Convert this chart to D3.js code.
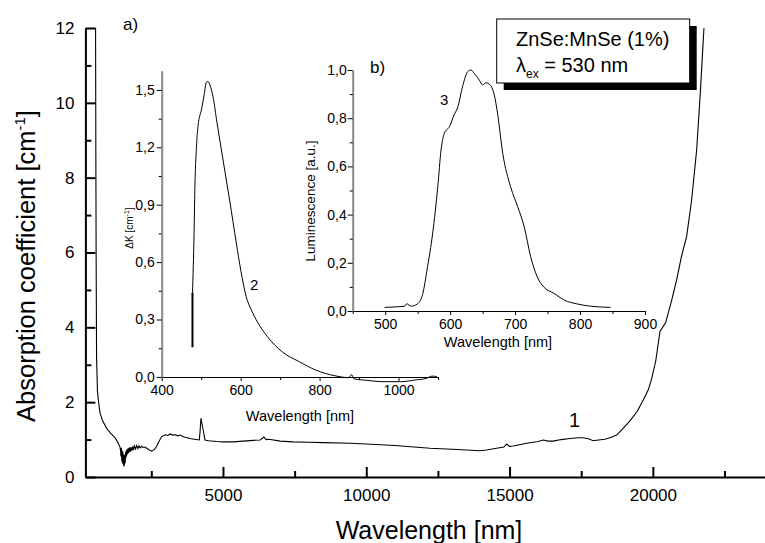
<!DOCTYPE html>
<html>
<head>
<meta charset="utf-8">
<title>ZnSe:MnSe absorption</title>
<script src="https://d3js.org/d3.v7.min.js"></script>
<style>
  body { margin: 0; background: #fff; }
  text { font-family: "Liberation Sans", Arial, sans-serif; fill: #000; }
</style>
</head>
<body>
<svg id="chart" width="765" height="543"></svg>
<script>
// main curve 1: absorption coefficient vs wavelength
var mainWavelength = [555, 565, 575, 590, 620, 660, 708, 800, 942, 1100, 1232, 1330, 1406, 1425, 1440, 1455, 1470, 1480, 1490, 1500, 1510, 1520, 1530, 1540, 1550, 1560, 1570, 1580, 1590, 1600, 1610, 1620, 1630, 1650, 1670, 1690, 1710, 1730, 1760, 1790, 1820, 1850, 1880, 1910, 1950, 1990, 2030, 2070, 2110, 2160, 2210, 2270, 2340, 2420, 2512, 2600, 2687, 2780, 2860, 2917, 3000, 3080, 3151, 3250, 3350, 3420, 3500, 3650, 3849, 4000, 4173, 4200, 4232, 4260, 4313, 4372, 4500, 4780, 5000, 5360, 5700, 6057, 6300, 6431, 6500, 6600, 7000, 7443, 8000, 8500, 9431, 10000, 11000, 12222, 13000, 13500, 13967, 14200, 14550, 14800, 14899, 15000, 15129, 15600, 16000, 16176, 16350, 16525, 16800, 17107, 17400, 17571, 17750, 17920, 18100, 18329, 18550, 18737, 18911, 19201, 19450, 19665, 19840, 19950, 20100, 20248, 20443, 20650, 20830, 21000, 21179, 21354, 21528, 21650, 21783]
var mainAbsorption = [12.0, 8.5, 5.8, 3.2, 2.3, 2.0, 1.72, 1.5, 1.3, 1.15, 1.05, 0.93, 0.8, 0.72, 0.55, 0.78, 0.42, 0.68, 0.36, 0.7, 0.4, 0.62, 0.3, 0.58, 0.28, 0.52, 0.34, 0.6, 0.38, 0.66, 0.5, 0.7, 0.55, 0.74, 0.6, 0.77, 0.64, 0.79, 0.67, 0.8, 0.7, 0.82, 0.72, 0.83, 0.75, 0.84, 0.76, 0.83, 0.78, 0.82, 0.79, 0.8, 0.77, 0.73, 0.69, 0.73, 0.82, 0.97, 1.08, 1.1, 1.13, 1.11, 1.15, 1.12, 1.13, 1.1, 1.12, 1.07, 1.03, 1.01, 0.99, 1.2, 1.57, 1.45, 1.25, 0.99, 0.97, 0.95, 0.94, 0.94, 0.96, 0.98, 0.99, 1.07, 1.0, 1.01, 0.96, 0.94, 0.93, 0.92, 0.9, 0.88, 0.84, 0.77, 0.74, 0.72, 0.70, 0.72, 0.77, 0.8, 0.88, 0.82, 0.83, 0.9, 0.95, 0.99, 0.96, 0.96, 1.0, 1.03, 1.05, 1.05, 1.02, 0.97, 0.99, 1.01, 1.06, 1.12, 1.26, 1.5, 1.75, 2.06, 2.33, 2.6, 3.1, 3.89, 4.12, 4.7, 5.27, 5.9, 6.43, 7.41, 8.74, 10.2, 12.0]

// inset a, curve 2: delta K
var dkWavelength = [478, 482, 484, 488, 492, 501, 508, 513, 517, 522, 530, 540, 551, 562, 572, 589, 601, 614, 627, 639, 668, 706, 748, 790, 841, 874, 881, 887, 920, 958, 1008, 1042, 1070, 1085, 1097]
var dkValue = [0.44, 0.75, 0.98, 1.2, 1.31, 1.40, 1.48, 1.54, 1.545, 1.526, 1.465, 1.33, 1.19, 1.05, 0.925, 0.70, 0.55, 0.42, 0.35, 0.30, 0.21, 0.13, 0.08, 0.036, 0.005, -0.004, 0.012, -0.01, -0.018, -0.025, -0.025, -0.016, -0.008, 0.004, 0.002]
var dkBar = [[478, 0.44], [478, 0.155]]

// inset b, curve 3: luminescence
var lumWavelength = [499, 515, 530, 533, 540, 550, 558, 565, 573, 581, 586, 591, 599, 606, 612, 619, 627, 632, 637, 645, 650, 655, 660, 668, 673, 681, 693, 704, 714, 724, 734, 744, 760, 775, 796, 816, 847]
var lumValue = [0.015, 0.017, 0.02, 0.03, 0.02, 0.03, 0.073, 0.18, 0.32, 0.516, 0.668, 0.737, 0.765, 0.813, 0.848, 0.93, 0.993, 1.0, 0.986, 0.958, 0.938, 0.947, 0.942, 0.896, 0.82, 0.654, 0.516, 0.433, 0.35, 0.225, 0.142, 0.10, 0.073, 0.046, 0.029, 0.02, 0.015]

var mainXTicks = [5000, 10000, 15000, 20000]
var mainXMinor = [2500, 7500, 12500, 17500, 22500]
var mainYTicks = [0, 2, 4, 6, 8, 10, 12]
var mainYMinor = [1, 3, 5, 7, 9, 11]
var aXTicks = [400, 600, 800, 1000]
var aXMinor = [500, 700, 900, 1100]
var aYTicks = [0, 0.3, 0.6, 0.9, 1.2, 1.5]
var aYMinor = [0.15, 0.45, 0.75, 1.05, 1.35]
var bXTicks = [500, 600, 700, 800, 900]
var bXMinor = [450, 550, 650, 750, 850]
var bYTicks = [0, 0.2, 0.4, 0.6, 0.8, 1.0]
var bYMinor = [0.1, 0.3, 0.5, 0.7, 0.9]

var svg = d3.select('#chart')
var comma = d => d3.format('.1f')(d).replace('.', ',')

function axisStyle(g, width, color) {
  g.select('.domain').attr('stroke', color).attr('stroke-width', width)
  g.selectAll('.tick line').attr('stroke', '#000').attr('stroke-width', width)
}

// ---------- main plot ----------
var x = d3.scaleLinear().domain([200, 24000]).range([85.4, 767.5])
var y = d3.scaleLinear().domain([0, 12]).range([477, 28])

var gx = svg.append('g').attr('transform', 'translate(0,477)')
  .call(d3.axisBottom(x).tickValues(mainXTicks).tickSizeInner(-10).tickSizeOuter(0).tickPadding(12).tickFormat(d3.format('d')))
gx.append('g').call(d3.axisBottom(x).tickValues(mainXMinor).tickSize(-6).tickFormat('')).select('.domain').remove()
axisStyle(gx, 2, '#000')
gx.selectAll('text').attr('font-size', 17)

var gy = svg.append('g').attr('transform', 'translate(85.4,0)')
  .call(d3.axisLeft(y).tickValues(mainYTicks).tickSizeInner(-10).tickSizeOuter(0).tickPadding(11))
gy.append('g').call(d3.axisLeft(y).tickValues(mainYMinor).tickSize(-6).tickFormat('')).select('.domain').remove()
axisStyle(gy, 2, '#000')
gy.selectAll('text').attr('font-size', 17)

svg.append('path')
  .datum(d3.zip(mainWavelength, mainAbsorption))
  .attr('d', d3.line().x(d => x(d[0])).y(d => y(d[1])))
  .attr('fill', 'none').attr('stroke', '#000').attr('stroke-width', 1.1)

svg.append('text').attr('x', 429).attr('y', 539).attr('text-anchor', 'middle')
  .attr('font-size', 25).text('Wavelength [nm]')
var yt = svg.append('text').attr('transform', 'translate(35,266) rotate(-90)')
  .attr('text-anchor', 'middle').attr('font-size', 25.5)
yt.append('tspan').text('Absorption coefficient [cm')
yt.append('tspan').attr('font-size', 15).attr('dy', -10).text('-1')
yt.append('tspan').attr('dy', 10).text(']')

svg.append('text').attr('x', 569).attr('y', 427).attr('font-size', 20).text('1')

// ---------- inset a ----------
var ax = d3.scaleLinear().domain([400, 1100]).range([161.7, 438])
var ay = d3.scaleLinear().domain([0, 1.6]).range([376.9, 70.8])

var gax = svg.append('g').attr('transform', 'translate(0,377)')
  .call(d3.axisBottom(ax).tickValues(aXTicks).tickSizeInner(4).tickSizeOuter(0).tickPadding(4).tickFormat(d3.format('d')))
gax.append('g').call(d3.axisBottom(ax).tickValues(aXMinor).tickSize(3).tickFormat('')).select('.domain').remove()
axisStyle(gax, 1, '#000')
gax.selectAll('text').attr('font-size', 14)

var gay = svg.append('g').attr('transform', 'translate(161.7,0)')
  .call(d3.axisLeft(ay).tickValues(aYTicks).tickSizeInner(5).tickSizeOuter(0).tickPadding(2).tickFormat(comma))
gay.append('g').call(d3.axisLeft(ay).tickValues(aYMinor).tickSize(3).tickFormat('')).select('.domain').remove()
axisStyle(gay, 1, '#000')
gay.select('.domain').attr('stroke', '#888').attr('stroke-width', 2)
gay.selectAll('text').attr('font-size', 14)

svg.append('path')
  .datum(d3.zip(dkWavelength, dkValue))
  .attr('d', d3.line().x(d => ax(d[0])).y(d => ay(d[1])).curve(d3.curveMonotoneX))
  .attr('fill', 'none').attr('stroke', '#000').attr('stroke-width', 1)
svg.append('path')
  .datum(dkBar)
  .attr('d', d3.line().x(d => ax(d[0])).y(d => ay(d[1])))
  .attr('fill', 'none').attr('stroke', '#000').attr('stroke-width', 2)

svg.append('text').attr('x', 300).attr('y', 421).attr('text-anchor', 'middle')
  .attr('font-size', 14.5).text('Wavelength [nm]')
var at = svg.append('text').attr('transform', 'translate(133,228) rotate(-90)')
  .attr('text-anchor', 'middle').attr('font-size', 10)
at.append('tspan').text('\u0394K [cm')
at.append('tspan').attr('font-size', 7).attr('dy', -4).text('-1')
at.append('tspan').attr('dy', 4).text(']')
svg.append('text').attr('x', 250).attr('y', 290).attr('font-size', 15).text('2')
svg.append('text').attr('x', 123).attr('y', 30).attr('font-size', 17).text('a)')

// ---------- inset b ----------
var bx = d3.scaleLinear().domain([450, 900]).range([352.7, 645])
var by = d3.scaleLinear().domain([0, 1]).range([311, 70])

var gbx = svg.append('g').attr('transform', 'translate(0,311)')
  .call(d3.axisBottom(bx).tickValues(bXTicks).tickSizeInner(4).tickSizeOuter(0).tickPadding(4).tickFormat(d3.format('d')))
gbx.append('g').call(d3.axisBottom(bx).tickValues(bXMinor).tickSize(3).tickFormat('')).select('.domain').remove()
axisStyle(gbx, 1, '#000')
gbx.selectAll('text').attr('font-size', 14)

var gby = svg.append('g').attr('transform', 'translate(352.7,0)')
  .call(d3.axisLeft(by).tickValues(bYTicks).tickSizeInner(5).tickSizeOuter(0).tickPadding(1).tickFormat(comma))
gby.append('g').call(d3.axisLeft(by).tickValues(bYMinor).tickSize(3).tickFormat('')).select('.domain').remove()
axisStyle(gby, 1, '#000')
gby.select('.domain').attr('stroke', '#888').attr('stroke-width', 2)
gby.selectAll('text').attr('font-size', 14)

svg.append('path')
  .datum(d3.zip(lumWavelength, lumValue))
  .attr('d', d3.line().x(d => bx(d[0])).y(d => by(d[1])).curve(d3.curveMonotoneX))
  .attr('fill', 'none').attr('stroke', '#000').attr('stroke-width', 1)

svg.append('text').attr('x', 498).attr('y', 347).attr('text-anchor', 'middle')
  .attr('font-size', 14.5).text('Wavelength [nm]')
svg.append('text').attr('transform', 'translate(315,201) rotate(-90)')
  .attr('text-anchor', 'middle').attr('font-size', 13.5).text('Luminescence [a.u.]')
svg.append('text').attr('x', 440).attr('y', 105).attr('font-size', 15).text('3')
svg.append('text').attr('x', 370).attr('y', 73).attr('font-size', 17).text('b)')

// ---------- legend box ----------
svg.append('rect').attr('x', 503.7).attr('y', 26).attr('width', 193).attr('height', 64).attr('fill', '#000')
svg.append('rect').attr('x', 496.7).attr('y', 19).attr('width', 193).attr('height', 64)
  .attr('fill', '#fff').attr('stroke', '#000').attr('stroke-width', 1)
svg.append('text').attr('x', 516).attr('y', 46).attr('font-size', 20).text('ZnSe:MnSe (1%)')
var lt = svg.append('text').attr('x', 516).attr('y', 72).attr('font-size', 20)
lt.append('tspan').text('\u03bb')
lt.append('tspan').attr('font-size', 12).attr('dy', 6).text('ex')
lt.append('tspan').attr('dy', -6).text(' = 530 nm')
</script>
</body>
</html>
